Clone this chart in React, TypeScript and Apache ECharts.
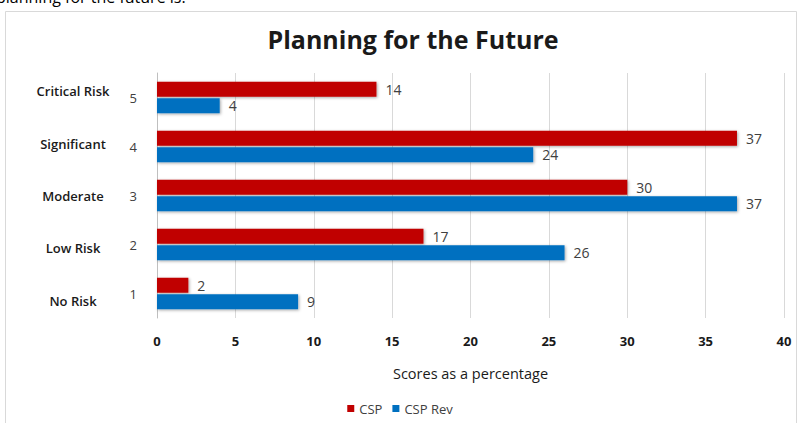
import React, { useEffect, useRef } from "react";
import * as echarts from "echarts";

const levels = ["5", "4", "3", "2", "1"];
const levelNames = ["Critical Risk", "Significant", "Moderate", "Low Risk", "No Risk"];
const cspValues = [14, 37, 30, 17, 2];
const cspRevValues = [4, 24, 37, 26, 9];
const seriesNames = ["CSP", "CSP Rev"];
const xTicks = { min: 0, max: 40, interval: 5 };
const titleText = "Planning for the Future";
const xAxisTitle = "Scores as a percentage";
const captionText = "planning for the future is:";

const FONT = "'Open Sans', 'Noto Sans', sans-serif";

export default function App() {
  const ref = useRef<HTMLDivElement>(null);
  useEffect(() => {
    document.body.style.margin = "0";
    const chart = echarts.init(ref.current!, null, { renderer: "svg" });
    const labelStyle = { show: true, position: "right", color: "#404040", fontSize: 14, fontFamily: FONT, distance: 9 };
    chart.setOption({
      animation: false,
      backgroundColor: "#ffffff",
      textStyle: { fontFamily: FONT },
      title: {
        text: titleText,
        left: 408,
        textAlign: "center",
        top: 21,
        textStyle: { fontSize: 25, fontWeight: "bold", color: "#1a1a1a", fontFamily: FONT },
      },
      graphic: [
        {
          type: "rect",
          shape: { x: 5.5, y: 11.5, width: 791, height: 420 },
          style: { fill: "none", stroke: "#d9d9d9", lineWidth: 1 },
          silent: true,
        },
        {
          type: "text",
          left: -4,
          top: -11,
          style: { text: captionText, fontSize: 16, fill: "#000", fontFamily: FONT },
          silent: true,
        },
      ],
      legend: {
        data: seriesNames,
        bottom: 3,
        left: "center",
        itemWidth: 7,
        itemHeight: 7,
        itemGap: 10,
        icon: "rect",
        textStyle: { fontSize: 13, color: "#404040", fontFamily: FONT },
      },
      grid: [
        { left: 157, right: 16, top: 73, bottom: 105, containLabel: false },
        { left: 157, right: 16, top: 65, bottom: 96, containLabel: false },
      ],
      xAxis: [
        {
          type: "value",
          gridIndex: 0,
          min: xTicks.min,
          max: xTicks.max,
          interval: xTicks.interval,
          axisLine: { show: false },
          axisTick: { show: false },
          splitLine: { show: true, lineStyle: { color: "#d9d9d9" } },
          axisLabel: { color: "#1a1a1a", fontSize: 13, fontWeight: "bold", margin: 16, fontFamily: FONT },
          name: xAxisTitle,
          nameLocation: "middle",
          nameGap: 48,
          nameTextStyle: { fontSize: 14.5, color: "#1a1a1a", fontFamily: FONT },
        },
        {
          type: "value",
          gridIndex: 1,
          show: false,
          min: 0,
          max: 40,
        },
      ],
      yAxis: [
        {
          type: "category",
          gridIndex: 0,
          data: levels,
          inverse: true,
          axisLine: { show: true, lineStyle: { color: "#bfbfbf" } },
          axisTick: { show: false },
          axisLabel: { color: "#404040", fontSize: 13, margin: 20, fontFamily: FONT },
        },
        {
          type: "category",
          gridIndex: 1,
          data: levelNames,
          inverse: true,
          axisLine: { show: false },
          axisTick: { show: false },
          axisLabel: {
            color: "#1a1a1a",
            fontSize: 13,
            fontWeight: 600,
            margin: 84,
            align: "center",
            fontFamily: FONT,
          },
        },
      ],
      series: [
        {
          name: seriesNames[0],
          type: "bar",
          xAxisIndex: 0,
          yAxisIndex: 0,
          data: cspValues,
          barWidth: 15,
          barGap: "10%",
          itemStyle: { color: "#c00000", shadowColor: "rgba(0,0,0,0.35)", shadowBlur: 3, shadowOffsetX: 1, shadowOffsetY: 1 },
          label: labelStyle,
        },
        {
          name: seriesNames[1],
          type: "bar",
          xAxisIndex: 0,
          yAxisIndex: 0,
          data: cspRevValues,
          barWidth: 15,
          barGap: "10%",
          itemStyle: { color: "#0070c0", shadowColor: "rgba(0,0,0,0.35)", shadowBlur: 3, shadowOffsetX: 1, shadowOffsetY: 1 },
          label: labelStyle,
        },
      ],
    });
    return () => chart.dispose();
  }, []);
  return <div ref={ref} style={{ width: 800, height: 423 }} />;
}
